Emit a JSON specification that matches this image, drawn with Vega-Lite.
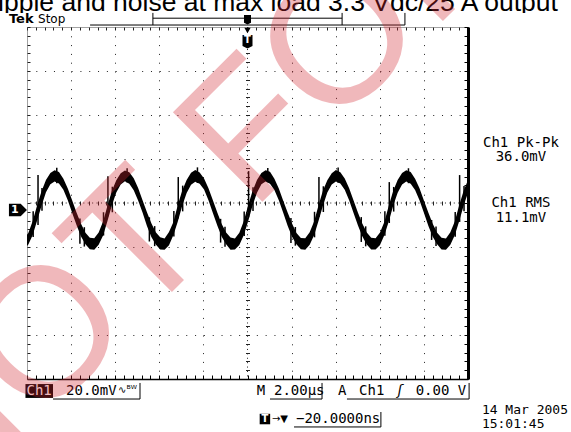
{
  "$schema": "https://vega.github.io/schema/vega-lite/v6.json",
  "width": 441,
  "height": 352,
  "autosize": "none",
  "padding": {"left": 27, "top": 27, "right": 103, "bottom": 53},
  "background": "white",
  "config": {"view": {"stroke": null}},
  "datasets": {
    "one": [{"k": 1}],
    "wave": [
      {"t": -10.14, "lo": -21.0, "hi": -16.3},
      {"t": -9.94, "lo": -18.9, "hi": -13.6},
      {"t": -9.74, "lo": -14.6, "hi": -8.2},
      {"t": -9.54, "lo": -8.0, "hi": -1.0},
      {"t": -9.34, "lo": -1.2, "hi": 5.3},
      {"t": -9.14, "lo": 4.9, "hi": 10.4},
      {"t": -8.94, "lo": 8.5, "hi": 13.6},
      {"t": -8.75, "lo": 9.8, "hi": 14.9},
      {"t": -8.55, "lo": 8.9, "hi": 14.1},
      {"t": -8.35, "lo": 6.0, "hi": 11.0},
      {"t": -8.15, "lo": 1.3, "hi": 6.6},
      {"t": -7.95, "lo": -4.5, "hi": 1.1},
      {"t": -7.75, "lo": -10.1, "hi": -4.4},
      {"t": -7.55, "lo": -15.2, "hi": -9.4},
      {"t": -7.35, "lo": -18.8, "hi": -13.5},
      {"t": -7.15, "lo": -21.0, "hi": -15.8},
      {"t": -6.95, "lo": -21.2, "hi": -16.0},
      {"t": -6.75, "lo": -19.0, "hi": -13.4},
      {"t": -6.55, "lo": -14.8, "hi": -8.4},
      {"t": -6.35, "lo": -8.2, "hi": -1.2},
      {"t": -6.15, "lo": -1.0, "hi": 5.6},
      {"t": -5.95, "lo": 4.8, "hi": 10.3},
      {"t": -5.75, "lo": 8.4, "hi": 13.5},
      {"t": -5.56, "lo": 9.9, "hi": 14.8},
      {"t": -5.36, "lo": 8.7, "hi": 14.0},
      {"t": -5.16, "lo": 5.8, "hi": 11.2},
      {"t": -4.96, "lo": 1.1, "hi": 6.8},
      {"t": -4.76, "lo": -4.3, "hi": 1.3},
      {"t": -4.56, "lo": -10.4, "hi": -4.2},
      {"t": -4.36, "lo": -15.4, "hi": -9.2},
      {"t": -4.16, "lo": -18.9, "hi": -13.3},
      {"t": -3.96, "lo": -21.1, "hi": -15.6},
      {"t": -3.76, "lo": -21.3, "hi": -16.1},
      {"t": -3.56, "lo": -19.2, "hi": -13.2},
      {"t": -3.36, "lo": -14.6, "hi": -8.6},
      {"t": -3.16, "lo": -8.4, "hi": -0.9},
      {"t": -2.96, "lo": -1.3, "hi": 5.7},
      {"t": -2.76, "lo": 4.6, "hi": 10.5},
      {"t": -2.56, "lo": 8.3, "hi": 13.7},
      {"t": -2.37, "lo": 9.7, "hi": 15.0},
      {"t": -2.17, "lo": 8.8, "hi": 13.9},
      {"t": -1.97, "lo": 6.1, "hi": 11.1},
      {"t": -1.77, "lo": 1.2, "hi": 6.7},
      {"t": -1.57, "lo": -4.6, "hi": 1.2},
      {"t": -1.37, "lo": -10.2, "hi": -4.3},
      {"t": -1.17, "lo": -15.3, "hi": -9.5},
      {"t": -0.97, "lo": -18.7, "hi": -13.4},
      {"t": -0.77, "lo": -21.2, "hi": -15.7},
      {"t": -0.57, "lo": -21.1, "hi": -16.1},
      {"t": -0.37, "lo": -19.1, "hi": -13.5},
      {"t": -0.17, "lo": -14.7, "hi": -8.3},
      {"t": 0.03, "lo": -8.3, "hi": -1.0},
      {"t": 0.23, "lo": -1.1, "hi": 5.5},
      {"t": 0.43, "lo": 4.7, "hi": 10.4},
      {"t": 0.63, "lo": 8.5, "hi": 13.6},
      {"t": 0.82, "lo": 9.8, "hi": 14.9},
      {"t": 1.02, "lo": 8.8, "hi": 14.2},
      {"t": 1.22, "lo": 5.9, "hi": 11.0},
      {"t": 1.42, "lo": 1.2, "hi": 6.6},
      {"t": 1.62, "lo": -4.4, "hi": 1.0},
      {"t": 1.82, "lo": -10.3, "hi": -4.3},
      {"t": 2.02, "lo": -15.3, "hi": -9.3},
      {"t": 2.22, "lo": -18.8, "hi": -13.6},
      {"t": 2.42, "lo": -21.0, "hi": -15.9},
      {"t": 2.62, "lo": -21.2, "hi": -16.0},
      {"t": 2.82, "lo": -19.0, "hi": -13.3},
      {"t": 3.02, "lo": -14.7, "hi": -8.4},
      {"t": 3.22, "lo": -8.2, "hi": -1.1},
      {"t": 3.42, "lo": -1.2, "hi": 5.6},
      {"t": 3.62, "lo": 4.8, "hi": 10.3},
      {"t": 3.82, "lo": 8.4, "hi": 13.5},
      {"t": 4.01, "lo": 9.8, "hi": 15.0},
      {"t": 4.21, "lo": 8.9, "hi": 14.0},
      {"t": 4.41, "lo": 6.0, "hi": 11.1},
      {"t": 4.61, "lo": 1.3, "hi": 6.7},
      {"t": 4.81, "lo": -4.5, "hi": 1.1},
      {"t": 5.01, "lo": -10.2, "hi": -4.4},
      {"t": 5.21, "lo": -15.2, "hi": -9.4},
      {"t": 5.41, "lo": -18.9, "hi": -13.4},
      {"t": 5.61, "lo": -21.1, "hi": -15.8},
      {"t": 5.81, "lo": -21.1, "hi": -16.0},
      {"t": 6.01, "lo": -19.1, "hi": -13.4},
      {"t": 6.21, "lo": -14.6, "hi": -8.5},
      {"t": 6.41, "lo": -8.3, "hi": -1.1},
      {"t": 6.61, "lo": -1.1, "hi": 5.6},
      {"t": 6.81, "lo": 4.7, "hi": 10.4},
      {"t": 7.01, "lo": 8.4, "hi": 13.6},
      {"t": 7.2, "lo": 9.8, "hi": 14.9},
      {"t": 7.4, "lo": 8.8, "hi": 14.1},
      {"t": 7.6, "lo": 5.9, "hi": 11.0},
      {"t": 7.8, "lo": 1.2, "hi": 6.7},
      {"t": 8.0, "lo": -4.4, "hi": 1.1},
      {"t": 8.2, "lo": -10.3, "hi": -4.3},
      {"t": 8.4, "lo": -15.3, "hi": -9.4},
      {"t": 8.6, "lo": -18.8, "hi": -13.5},
      {"t": 8.8, "lo": -21.1, "hi": -15.8},
      {"t": 9.0, "lo": -21.2, "hi": -16.1},
      {"t": 9.2, "lo": -19.0, "hi": -13.3},
      {"t": 9.4, "lo": -14.7, "hi": -8.4},
      {"t": 9.6, "lo": -8.3, "hi": -1.0},
      {"t": 9.8, "lo": -1.2, "hi": 5.5},
      {"t": 10.0, "lo": 4.7, "hi": 10.4},
      {"t": 10.2, "lo": 8.4, "hi": 13.6}
    ],
    "spikes": [
      {"t": -9.5, "lo": -10.0, "hi": 12.7},
      {"t": -6.33, "lo": -6.0, "hi": 12.2},
      {"t": -3.14, "lo": -7.0, "hi": 11.8},
      {"t": 0.05, "lo": -6.5, "hi": 14.5},
      {"t": 3.24, "lo": -6.4, "hi": 11.8},
      {"t": 6.43, "lo": -9.1, "hi": 9.5},
      {"t": 9.62, "lo": -8.6, "hi": 12.7},
      {"t": -7.6, "lo": -18.5, "hi": -7.0},
      {"t": -4.45, "lo": -17.5, "hi": -6.5},
      {"t": -1.22, "lo": -18.0, "hi": -7.2},
      {"t": 1.97, "lo": -18.2, "hi": -6.8},
      {"t": 5.16, "lo": -17.7, "hi": -6.4},
      {"t": 8.35, "lo": -16.8, "hi": -7.7},
      {"t": -9.72, "lo": -15.5, "hi": -3.8},
      {"t": -9.32, "lo": -3.5, "hi": 6.8},
      {"t": -6.53, "lo": -14.8, "hi": -4.2},
      {"t": -6.13, "lo": -4.2, "hi": 7.4},
      {"t": -7.4, "lo": -19.8, "hi": -11.0},
      {"t": -8.65, "lo": 9.0, "hi": 16.0},
      {"t": -3.34, "lo": -15.2, "hi": -3.6},
      {"t": -2.94, "lo": -3.8, "hi": 7.9},
      {"t": -4.21, "lo": -19.6, "hi": -10.5},
      {"t": -5.46, "lo": 9.3, "hi": 15.8},
      {"t": -0.15, "lo": -15.0, "hi": -3.9},
      {"t": 0.25, "lo": -3.6, "hi": 7.2},
      {"t": -1.02, "lo": -19.9, "hi": -10.8},
      {"t": -2.27, "lo": 9.1, "hi": 16.2},
      {"t": 3.04, "lo": -15.6, "hi": -4.0},
      {"t": 3.44, "lo": -4.1, "hi": 7.6},
      {"t": 2.17, "lo": -19.4, "hi": -10.9},
      {"t": 0.92, "lo": 9.4, "hi": 15.9},
      {"t": 6.23, "lo": -14.9, "hi": -3.7},
      {"t": 6.63, "lo": -3.9, "hi": 7.3},
      {"t": 5.36, "lo": -19.7, "hi": -10.6},
      {"t": 4.11, "lo": 9.2, "hi": 16.1},
      {"t": 9.42, "lo": -15.3, "hi": -4.1},
      {"t": 9.82, "lo": -3.7, "hi": 7.7},
      {"t": 8.55, "lo": -19.5, "hi": -10.7},
      {"t": 7.3, "lo": 9.0, "hi": 15.8}
    ]
  },
  "layer": [
    {
      "data": {"name": "wave"},
      "mark": {"type": "area", "color": "black", "clip": true, "opacity": 1},
      "encoding": {
        "x": {"field": "t", "type": "quantitative", "scale": {"domain": [-10, 10], "nice": false, "zero": false},
          "axis": {"orient": "bottom", "title": null, "labels": false,
            "values": [-10,-9.6,-9.2,-8.8,-8.4,-8,-7.6,-7.2,-6.8,-6.4,-6,-5.6,-5.2,-4.8,-4.4,-4,-3.6,-3.2,-2.8,-2.4,-2,-1.6,-1.2,-0.8,-0.4,0,0.4,0.8,1.2,1.6,2,2.4,2.8,3.2,3.6,4,4.4,4.8,5.2,5.6,6,6.4,6.8,7.2,7.6,8,8.4,8.8,9.2,9.6,10],
            "domainColor": "black", "domainWidth": 1.5, "tickSize": -4, "tickColor": "black", "tickWidth": 1,
            "grid": true, "gridColor": "#222", "gridWidth": 1, "gridDash": [1, 7.8],
            "gridOpacity": {"condition": {"test": "abs(datum.value) > 0.1 && abs(datum.value) < 9.9 && abs(datum.value / 2 - round(datum.value / 2)) < 0.01", "value": 1}, "value": 0}}},
        "y": {"field": "lo", "type": "quantitative", "scale": {"domain": [-80, 80], "nice": false, "zero": false},
          "axis": {"orient": "left", "title": null, "labels": false,
            "values": [-80,-76,-72,-68,-64,-60,-56,-52,-48,-44,-40,-36,-32,-28,-24,-20,-16,-12,-8,-4,0,4,8,12,16,20,24,28,32,36,40,44,48,52,56,60,64,68,72,76,80],
            "domainColor": "#444", "domainDash": [1, 1], "tickSize": -3, "tickColor": "#222", "tickWidth": 1,
            "grid": true, "gridColor": "#222", "gridWidth": 1, "gridDash": [1, 7.82],
            "gridOpacity": {"condition": {"test": "abs(datum.value) > 1 && abs(datum.value) < 79 && abs(datum.value / 20 - round(datum.value / 20)) < 0.01", "value": 1}, "value": 0}}},
        "y2": {"field": "hi"}
      }
    },
    {
      "data": {"name": "spikes"},
      "mark": {"type": "rule", "color": "black", "strokeWidth": 1.5, "clip": true},
      "encoding": {
        "x": {"field": "t", "type": "quantitative",
          "axis": {"orient": "top", "title": null, "labels": false,
            "values": [-10,-9.6,-9.2,-8.8,-8.4,-8,-7.6,-7.2,-6.8,-6.4,-6,-5.6,-5.2,-4.8,-4.4,-4,-3.6,-3.2,-2.8,-2.4,-2,-1.6,-1.2,-0.8,-0.4,0,0.4,0.8,1.2,1.6,2,2.4,2.8,3.2,3.6,4,4.4,4.8,5.2,5.6,6,6.4,6.8,7.2,7.6,8,8.4,8.8,9.2,9.6,10],
            "domainColor": "#444", "domainDash": [1, 1], "tickSize": -3, "tickColor": "#222", "grid": false}},
        "y": {"field": "lo", "type": "quantitative",
          "axis": {"orient": "right", "title": null, "labels": false,
            "values": [-80,-76,-72,-68,-64,-60,-56,-52,-48,-44,-40,-36,-32,-28,-24,-20,-16,-12,-8,-4,0,4,8,12,16,20,24,28,32,36,40,44,48,52,56,60,64,68,72,76,80],
            "domainColor": "black", "domainWidth": 3, "tickSize": -4, "tickColor": "black", "grid": false}},
        "y2": {"field": "hi"}
      }
    },
    {
      "data": {"name": "one"},
      "mark": {"type": "point", "shape": "M-1,-0.7L0.3,-0.7L1,0L0.3,0.7L-1,0.7Z", "size": 324, "filled": true, "color": "black", "opacity": 1},
      "encoding": {
        "x": {"datum": -10.41, "type": "quantitative",
          "axis": {"orient": "bottom", "offset": -178, "title": null, "labels": false, "domain": false,
            "values": [-9.6,-9.2,-8.8,-8.4,-8,-7.6,-7.2,-6.8,-6.4,-6,-5.6,-5.2,-4.8,-4.4,-4,-3.6,-3.2,-2.8,-2.4,-2,-1.6,-1.2,-0.8,-0.4,0,0.4,0.8,1.2,1.6,2,2.4,2.8,3.2,3.6,4,4.4,4.8,5.2,5.6,6,6.4,6.8,7.2,7.6,8,8.4,8.8,9.2,9.6],
            "tickSize": 4, "tickColor": "#222", "grid": false}},
        "y": {"datum": -3.2, "type": "quantitative",
          "axis": {"orient": "left", "offset": -222.5, "title": null, "labels": false, "domain": false,
            "values": [-76,-72,-68,-64,-60,-56,-52,-48,-44,-40,-36,-32,-28,-24,-20,-16,-12,-8,-4,0,4,8,12,16,20,24,28,32,36,40,44,48,52,56,60,64,68,72,76],
            "tickSize": 4, "tickColor": "#222", "grid": false}}
      }
    },
    {"data": {"name": "one"}, "mark": {"type": "rule", "color": "#222", "strokeDash": [1, 3.41], "strokeWidth": 1},
     "encoding": {"x": {"datum": 0, "type": "quantitative", "axis": null}}},
    {"data": {"name": "one"}, "mark": {"type": "rule", "color": "#222", "strokeDash": [1, 3.41], "strokeWidth": 1},
     "encoding": {"y": {"datum": 0, "type": "quantitative", "axis": null}}},
    {"data": {"name": "one"}, "mark": {"type": "text", "text": "1", "color": "white", "font": "DejaVu Sans", "fontWeight": "bold", "fontSize": 11, "align": "center", "baseline": "middle"},
     "encoding": {"x": {"datum": -10.55, "type": "quantitative", "axis": null}, "y": {"datum": -3.2, "type": "quantitative", "axis": null}}},
    {"data": {"name": "one"}, "mark": {"type": "point", "shape": "triangle-down", "size": 40, "filled": true, "color": "black", "opacity": 1},
     "encoding": {"x": {"datum": 0, "type": "quantitative", "axis": null}, "y": {"datum": 78.4, "type": "quantitative", "axis": null}}},
    {"data": {"name": "one"}, "mark": {"type": "point", "shape": "M-1,-1.3L1,-1.3L1,0.9L0,1.4L-1,0.9Z", "size": 100, "filled": true, "color": "black", "opacity": 1},
     "encoding": {"x": {"datum": 0, "type": "quantitative", "axis": null}, "y": {"datum": 73.4, "type": "quantitative", "axis": null}}},
    {"data": {"name": "one"}, "mark": {"type": "text", "text": "T", "color": "white", "font": "DejaVu Sans", "fontWeight": "bold", "fontSize": 10, "align": "center", "baseline": "middle"},
     "encoding": {"x": {"datum": 0, "type": "quantitative", "axis": null}, "y": {"datum": 74.0, "type": "quantitative", "axis": null}}},
    {"data": {"name": "one"}, "mark": {"type": "text", "text": "Ripple and noise at max load 3.3 Vdc/25 A output", "font": "Liberation Sans", "fontSize": 26.5, "align": "center", "baseline": "alphabetic", "color": "black"},
     "encoding": {"x": {"datum": 0.95, "type": "quantitative", "axis": null}, "y": {"datum": 87.27, "type": "quantitative", "axis": null}}},
    {"data": {"name": "one"}, "mark": {"type": "rect", "color": "white", "opacity": 1},
     "encoding": {"x": {"datum": -11.3, "type": "quantitative", "axis": null}, "x2": {"datum": 14.8}, "y": {"datum": 86.4, "type": "quantitative", "axis": null}, "y2": {"datum": 81.0}}},
    {"data": {"name": "one"}, "mark": {"type": "rule", "color": "black", "strokeWidth": 1},
     "encoding": {"x": {"datum": -7.14, "type": "quantitative", "axis": null}, "x2": {"datum": 7.14}, "y": {"datum": 80.9, "type": "quantitative", "axis": null}}},
    {"data": {"name": "one"}, "mark": {"type": "rule", "color": "black", "strokeWidth": 1},
     "encoding": {"x": {"datum": -4.29, "type": "quantitative", "axis": null}, "x2": {"datum": 4.29}, "y": {"datum": 84.0, "type": "quantitative", "axis": null}}},
    {"data": {"values": [{"t": -4.29}, {"t": 4.29}, {"t": 7.14}]}, "mark": {"type": "rule", "color": "black", "strokeWidth": 1},
     "encoding": {"x": {"field": "t", "type": "quantitative", "axis": null}, "y": {"datum": 86.4, "type": "quantitative", "axis": null}, "y2": {"datum": 80.9}}},
    {"data": {"name": "one"}, "mark": {"type": "point", "shape": "M-1,-1.3L1,-1.3L1,0.9L0,1.4L-1,0.9Z", "size": 49, "filled": true, "color": "black", "opacity": 1},
     "encoding": {"x": {"datum": 0, "type": "quantitative", "axis": null}, "y": {"datum": 83.4, "type": "quantitative", "axis": null}}},
    {"data": {"name": "one"}, "mark": {"type": "text", "text": "Tek", "font": "DejaVu Sans", "fontWeight": "bold", "fontSize": 13, "align": "left", "baseline": "alphabetic", "color": "black"},
     "encoding": {"x": {"datum": -10.82, "type": "quantitative", "axis": null}, "y": {"datum": 81.82, "type": "quantitative", "axis": null}}},
    {"data": {"name": "one"}, "mark": {"type": "text", "text": "Stop", "font": "DejaVu Sans", "fontSize": 12, "align": "left", "baseline": "alphabetic", "color": "black"},
     "encoding": {"x": {"datum": -9.5, "type": "quantitative", "axis": null}, "y": {"datum": 81.82, "type": "quantitative", "axis": null}}},
    {"data": {"name": "one"}, "mark": {"type": "text", "text": "Ch1 Pk-Pk", "font": "DejaVu Sans Mono", "fontSize": 14, "align": "center", "baseline": "middle", "color": "black"},
     "encoding": {"x": {"datum": 12.4, "type": "quantitative", "axis": null}, "y": {"datum": 27.5, "type": "quantitative", "axis": null}}},
    {"data": {"name": "one"}, "mark": {"type": "text", "text": "36.0mV", "font": "DejaVu Sans Mono", "fontSize": 14, "align": "center", "baseline": "middle", "color": "black"},
     "encoding": {"x": {"datum": 12.4, "type": "quantitative", "axis": null}, "y": {"datum": 20.7, "type": "quantitative", "axis": null}}},
    {"data": {"name": "one"}, "mark": {"type": "text", "text": "Ch1 RMS", "font": "DejaVu Sans Mono", "fontSize": 14, "align": "center", "baseline": "middle", "color": "black"},
     "encoding": {"x": {"datum": 12.4, "type": "quantitative", "axis": null}, "y": {"datum": -0.2, "type": "quantitative", "axis": null}}},
    {"data": {"name": "one"}, "mark": {"type": "text", "text": "11.1mV", "font": "DejaVu Sans Mono", "fontSize": 14, "align": "center", "baseline": "middle", "color": "black"},
     "encoding": {"x": {"datum": 12.4, "type": "quantitative", "axis": null}, "y": {"datum": -7.0, "type": "quantitative", "axis": null}}},
    {"data": {"name": "one"}, "mark": {"type": "rect", "color": "black", "opacity": 1},
     "encoding": {"x": {"datum": -10.07, "type": "quantitative", "axis": null}, "x2": {"datum": -8.82}, "y": {"datum": -82.3, "type": "quantitative", "axis": null}, "y2": {"datum": -88.6}}},
    {"data": {"name": "one"}, "mark": {"type": "text", "text": "Ch1", "font": "DejaVu Sans Mono", "fontSize": 14, "align": "center", "baseline": "middle", "color": "white"},
     "encoding": {"x": {"datum": -9.45, "type": "quantitative", "axis": null}, "y": {"datum": -85.45, "type": "quantitative", "axis": null}}},
    {"data": {"name": "one"}, "mark": {"type": "text", "text": "20.0mV", "font": "DejaVu Sans Mono", "fontSize": 14, "align": "left", "baseline": "middle", "color": "black"},
     "encoding": {"x": {"datum": -8.23, "type": "quantitative", "axis": null}, "y": {"datum": -85.45, "type": "quantitative", "axis": null}}},
    {"data": {"name": "one"}, "mark": {"type": "text", "text": "∿ᴮᵂ", "font": "DejaVu Sans", "fontSize": 10, "align": "left", "baseline": "middle", "color": "black"},
     "encoding": {"x": {"datum": -5.87, "type": "quantitative", "axis": null}, "y": {"datum": -85.0, "type": "quantitative", "axis": null}}},
    {"data": {"name": "one"}, "mark": {"type": "rule", "color": "black", "strokeWidth": 1},
     "encoding": {"x": {"datum": -8.82, "type": "quantitative", "axis": null}, "x2": {"datum": -4.875}, "y": {"datum": -89.1, "type": "quantitative", "axis": null}}},
    {"data": {"name": "one"}, "mark": {"type": "rule", "color": "black", "strokeWidth": 1},
     "encoding": {"x": {"datum": 1.02, "type": "quantitative", "axis": null}, "x2": {"datum": 3.38}, "y": {"datum": -89.1, "type": "quantitative", "axis": null}}},
    {"data": {"name": "one"}, "mark": {"type": "rule", "color": "black", "strokeWidth": 1},
     "encoding": {"x": {"datum": 4.51, "type": "quantitative", "axis": null}, "x2": {"datum": 10.05}, "y": {"datum": -89.1, "type": "quantitative", "axis": null}}},
    {"data": {"values": [{"t": -4.875}, {"t": 3.38}, {"t": 10.05}]}, "mark": {"type": "rule", "color": "black", "strokeWidth": 1},
     "encoding": {"x": {"field": "t", "type": "quantitative", "axis": null}, "y": {"datum": -81.8, "type": "quantitative", "axis": null}, "y2": {"datum": -89.1}}},
    {"data": {"name": "one"}, "mark": {"type": "text", "text": "M", "font": "DejaVu Sans Mono", "fontSize": 14, "align": "center", "baseline": "middle", "color": "black"},
     "encoding": {"x": {"datum": 0.61, "type": "quantitative", "axis": null}, "y": {"datum": -85.45, "type": "quantitative", "axis": null}}},
    {"data": {"name": "one"}, "mark": {"type": "text", "text": "2.00µs", "font": "DejaVu Sans Mono", "fontSize": 14, "align": "left", "baseline": "middle", "color": "black"},
     "encoding": {"x": {"datum": 1.2, "type": "quantitative", "axis": null}, "y": {"datum": -85.45, "type": "quantitative", "axis": null}}},
    {"data": {"name": "one"}, "mark": {"type": "text", "text": "A", "font": "DejaVu Sans Mono", "fontSize": 14, "align": "center", "baseline": "middle", "color": "black"},
     "encoding": {"x": {"datum": 4.29, "type": "quantitative", "axis": null}, "y": {"datum": -85.45, "type": "quantitative", "axis": null}}},
    {"data": {"name": "one"}, "mark": {"type": "text", "text": "Ch1", "font": "DejaVu Sans Mono", "fontSize": 14, "align": "left", "baseline": "middle", "color": "black"},
     "encoding": {"x": {"datum": 5.06, "type": "quantitative", "axis": null}, "y": {"datum": -85.45, "type": "quantitative", "axis": null}}},
    {"data": {"name": "one"}, "mark": {"type": "text", "text": "ʃ", "font": "DejaVu Sans Mono", "fontSize": 14, "fontStyle": "italic", "align": "center", "baseline": "middle", "color": "black"},
     "encoding": {"x": {"datum": 6.92, "type": "quantitative", "axis": null}, "y": {"datum": -85.45, "type": "quantitative", "axis": null}}},
    {"data": {"name": "one"}, "mark": {"type": "text", "text": "0.00 V", "font": "DejaVu Sans Mono", "fontSize": 14, "align": "right", "baseline": "middle", "color": "black"},
     "encoding": {"x": {"datum": 9.92, "type": "quantitative", "axis": null}, "y": {"datum": -85.45, "type": "quantitative", "axis": null}}},
    {"data": {"name": "one"}, "mark": {"type": "point", "shape": "square", "size": 110, "filled": true, "color": "black", "opacity": 1},
     "encoding": {"x": {"datum": 0.79, "type": "quantitative", "axis": null}, "y": {"datum": -98.2, "type": "quantitative", "axis": null}}},
    {"data": {"name": "one"}, "mark": {"type": "text", "text": "T", "font": "DejaVu Sans", "fontWeight": "bold", "fontSize": 10, "align": "center", "baseline": "middle", "color": "white"},
     "encoding": {"x": {"datum": 0.79, "type": "quantitative", "axis": null}, "y": {"datum": -98.2, "type": "quantitative", "axis": null}}},
    {"data": {"name": "one"}, "mark": {"type": "text", "text": "→▼", "font": "DejaVu Sans", "fontSize": 10, "align": "center", "baseline": "middle", "color": "black"},
     "encoding": {"x": {"datum": 1.47, "type": "quantitative", "axis": null}, "y": {"datum": -98.2, "type": "quantitative", "axis": null}}},
    {"data": {"name": "one"}, "mark": {"type": "text", "text": "−20.0000ns", "font": "DejaVu Sans Mono", "fontSize": 14, "align": "left", "baseline": "middle", "color": "black"},
     "encoding": {"x": {"datum": 2.2, "type": "quantitative", "axis": null}, "y": {"datum": -98.2, "type": "quantitative", "axis": null}}},
    {"data": {"name": "one"}, "mark": {"type": "rule", "color": "black", "strokeWidth": 1},
     "encoding": {"x": {"datum": 2.11, "type": "quantitative", "axis": null}, "x2": {"datum": 6.05}, "y": {"datum": -101.8, "type": "quantitative", "axis": null}}},
    {"data": {"name": "one"}, "mark": {"type": "rule", "color": "black", "strokeWidth": 1},
     "encoding": {"x": {"datum": 6.05, "type": "quantitative", "axis": null}, "y": {"datum": -95.0, "type": "quantitative", "axis": null}, "y2": {"datum": -101.8}}},
    {"data": {"name": "one"}, "mark": {"type": "text", "text": "14 Mar  2005", "font": "DejaVu Sans Mono", "fontSize": 13, "align": "left", "baseline": "middle", "color": "black"},
     "encoding": {"x": {"datum": 10.63, "type": "quantitative", "axis": null}, "y": {"datum": -94.1, "type": "quantitative", "axis": null}}},
    {"data": {"name": "one"}, "mark": {"type": "text", "text": "15:01:45", "font": "DejaVu Sans Mono", "fontSize": 13, "align": "left", "baseline": "middle", "color": "black"},
     "encoding": {"x": {"datum": 10.63, "type": "quantitative", "axis": null}, "y": {"datum": -100.45, "type": "quantitative", "axis": null}}},
    {"data": {"name": "one"}, "mark": {"type": "text", "text": "NOT FOR NEW DESIGN", "font": "Liberation Sans", "fontSize": 184, "angle": -45, "align": "left", "baseline": "alphabetic", "color": "#d42a35", "opacity": 0.33},
     "encoding": {"x": {"datum": -13.8, "type": "quantitative", "axis": null}, "y": {"datum": -144.5, "type": "quantitative", "axis": null}}}
  ],
  "resolve": {"axis": {"x": "independent", "y": "independent"}}
}
